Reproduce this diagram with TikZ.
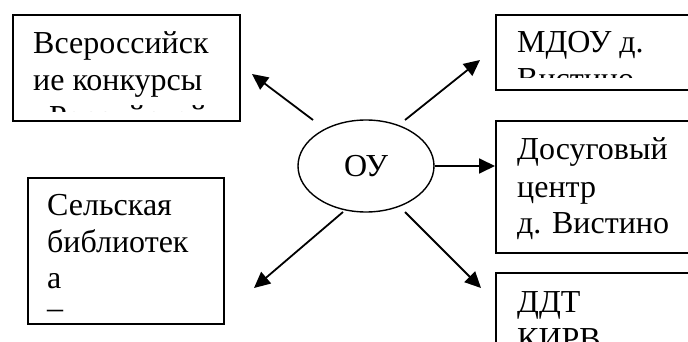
\documentclass[tikz,border=0pt]{standalone}
\usepackage{fontspec}
\setmainfont{Liberation Serif}
\usetikzlibrary{arrows.meta,shapes.geometric}
\begin{document}
\begin{tikzpicture}[x=1pt,y=-1pt,
  boxframe/.style={draw,line width=1.6pt,inner sep=0pt,anchor=north west},
  txt/.style={anchor=base west,inner sep=0pt,font=\fontsize{32}{37}\selectfont},
  conn/.style={line width=1.8pt,-{Triangle[length=16pt,width=15pt]}}]
\useasboundingbox (0,0) rectangle (688,342);
% boxes
\node[boxframe,minimum width=227pt,minimum height=106pt] (b1) at (12,14) {};
\node[boxframe,minimum width=220pt,minimum height=75pt] (b2) at (495,14) {};
\node[boxframe,minimum width=220pt,minimum height=132pt] (b3) at (495,120) {};
\node[boxframe,minimum width=220pt,minimum height=100pt] (b4) at (495,272) {};
\node[boxframe,minimum width=196pt,minimum height=146pt] (b5) at (27,177) {};
% texts
\begin{scope}
\clip (12,14) rectangle (239,112);
\node[txt] (b1l1) at (33,54) {Всероссийск};
\node[txt] (b1l2) at (33,91) {ие конкурсы};
\node[txt] (b1l3) at (33,128) {«Российской»};
\end{scope}
\begin{scope}
\clip (495,14) rectangle (688,78);
\node[txt] (b2l1) at (517,53) {МДОУ д.};
\node[txt] (b2l2) at (517,90) {Вистино};
\end{scope}
\node[txt] (b3l1) at (517,160) {Досуговый};
\node[txt] (b3l2) at (517,197) {центр};
\node[txt] (b3l3) at (517,233) {д. Вистино};
\begin{scope}
\clip (495,272) rectangle (688,342);
\node[txt] (b4l1) at (517,312) {ДДТ};
\node[txt] (b4l2) at (517,349) {КИРВ};
\end{scope}
\node[txt] (b5l1) at (47,215) {Сельская};
\node[txt] (b5l2) at (47,252) {библиотек};
\node[txt] (b5l3) at (47,288) {а};
\node[txt] (b5l4) at (47,318) {–};
% centre
\node[draw,ellipse,line width=1.4pt,minimum width=136pt,minimum height=92pt,inner sep=0pt,
  font=\fontsize{32}{37}\selectfont] (ou) at (366,166) {ОУ};
% connector ends
\coordinate (s1) at (313,120); \coordinate (e1) at (252,74);
\coordinate (s2) at (405,120); \coordinate (e2) at (480,60);
\coordinate (e3) at (b3.west);
\coordinate (s4) at (343,212); \coordinate (e4) at (254,288);
\coordinate (s5) at (405,212); \coordinate (e5) at (481,288);
\draw[conn] (s1) -- (e1);
\draw[conn] (s2) -- (e2);
\draw[conn] (ou.east) -- (e3 |- ou.east);
\draw[conn] (s4) -- (e4);
\draw[conn] (s5) -- (e5);
\end{tikzpicture}
\end{document}
